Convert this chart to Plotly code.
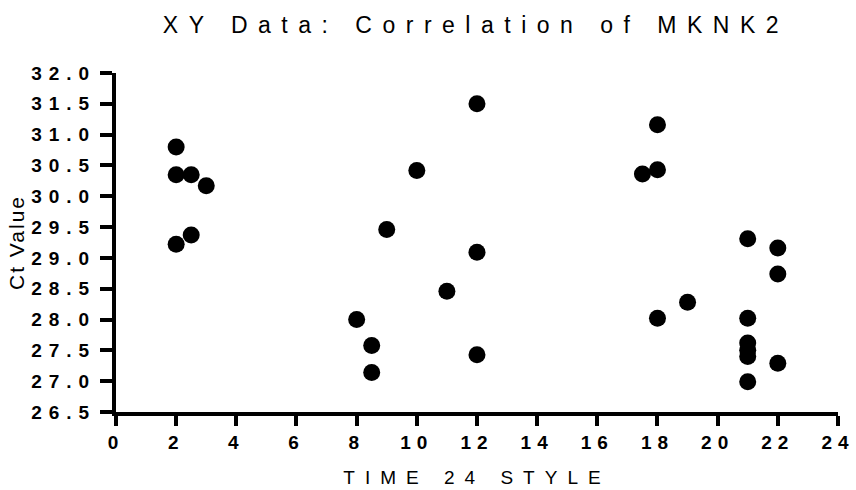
import plotly.graph_objects as go

# Data
time_hours = [2, 2, 2.5, 3, 2.5, 2,
              8, 8.5, 8.5, 9, 10, 11, 12, 12, 12,
              17.5, 18, 18, 18, 19,
              21, 21, 21, 21, 21, 21,
              22, 22, 22]
ct_values = [30.8, 30.35, 30.35, 30.17, 29.37, 29.22,
             28.0, 27.58, 27.14, 29.46, 30.42, 28.46, 31.5, 29.09, 27.43,
             30.36, 30.43, 31.16, 28.02, 28.28,
             29.31, 28.02, 27.62, 27.5, 27.4, 26.99,
             29.16, 28.74, 27.29]

x_tick_vals = [0, 2, 4, 6, 8, 10, 12, 14, 16, 18, 20, 22, 24]
x_tick_labels = ["0", "2", "4", "6", "8", "10", "12", "14", "16", "18", "20", "22", "24"]
y_tick_vals = [26.5, 27.0, 27.5, 28.0, 28.5, 29.0, 29.5, 30.0, 30.5, 31.0, 31.5, 32.0]
y_tick_labels = ["26.5", "27.0", "27.5", "28.0", "28.5", "29.0", "29.5",
                 "30.0", "30.5", "31.0", "31.5", "32.0"]

title_text = "XY Data: Correlation of MKNK2"
x_title = "TIME 24 STYLE"
y_title = "Ct Value"


def spaced(s, px):
    return f'<span style="letter-spacing:{px}px">{s}</span>'


fig = go.Figure()
fig.add_trace(go.Scatter(
    x=time_hours, y=ct_values, mode="markers",
    marker=dict(color="black", size=17, symbol="circle", line=dict(width=0)),
    showlegend=False, cliponaxis=False,
))

FONT = "Liberation Sans, Arial, sans-serif"

fig.update_layout(
    width=856, height=490,
    margin=dict(l=116, r=18, t=73, b=78),
    paper_bgcolor="white", plot_bgcolor="white",
    font=dict(family=FONT, color="black"),
    title=dict(text=spaced(title_text, 10.5), x=0.556, xanchor="center",
               xref="container", yref="container", y=1 - 25 / 490, yanchor="middle",
               font=dict(size=23, family=FONT, color="black")),
)

fig.update_xaxes(
    range=[0, 24.001], showgrid=False, zeroline=False,
    showline=True, linecolor="black", linewidth=4,
    ticks="outside", ticklen=10, tickwidth=4, tickcolor="black",
    tickvals=x_tick_vals, ticktext=[spaced(t, 6) for t in x_tick_labels],
    tickfont=dict(size=19, family=FONT, weight="bold", color="black"),
    ticklabeloverflow="allow",
    title=dict(text=spaced(x_title, 10), font=dict(size=19, family=FONT), standoff=20),
    automargin=False,
)
fig.update_yaxes(
    range=[26.5, 32], showgrid=False, zeroline=False,
    showline=True, linecolor="black", linewidth=4,
    ticks="outside", ticklen=12, tickwidth=4, tickcolor="black",
    tickvals=y_tick_vals, ticktext=[spaced(t, 7) for t in y_tick_labels],
    tickfont=dict(size=19, family=FONT, weight="bold", color="black"),
    ticklabeloverflow="allow",
    title=dict(text=spaced(y_title, 2), font=dict(size=21, family=FONT), standoff=2),
    automargin=False,
)

fig.write_html("out.html")
